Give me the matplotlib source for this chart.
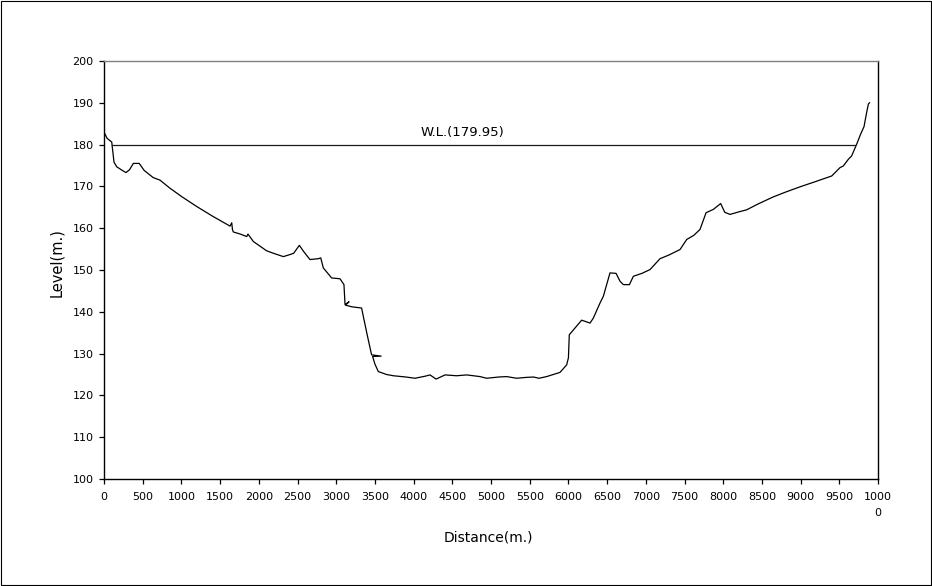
import matplotlib
matplotlib.use("Agg")
import matplotlib.pyplot as plt
from matplotlib.patches import Rectangle

plt.rcParams['font.family'] = ['DejaVu Sans']
plt.rcParams['font.size'] = 8

# river cross-section profile: distance (m) and bed level (m)
distance = [0, 40, 100, 129, 164, 230, 284, 330, 379, 455, 520, 636, 723, 850,
            1000, 1197, 1400, 1628, 1650, 1660, 1671, 1760, 1844, 1860, 1930,
            2016, 2100, 2189, 2317, 2403, 2450, 2524, 2580, 2661, 2769, 2800,
            2833, 2941, 3049, 3100, 3114, 3165, 3120, 3200, 3328, 3350, 3400,
            3457, 3580, 3470, 3500, 3544, 3650, 3738, 3900, 4017, 4150, 4212,
            4290, 4406, 4556, 4686, 4858, 4944, 5100, 5202, 5331, 5450, 5547,
            5620, 5718, 5891, 5977, 6000, 6011, 6084, 6171, 6279, 6322, 6408,
            6451, 6537, 6615, 6667, 6710, 6788, 6839, 6950, 7054, 7183, 7300,
            7442, 7528, 7620, 7700, 7778, 7872, 7967, 8020, 8088, 8200, 8303,
            8450, 8648, 8800, 8992, 9200, 9402, 9509, 9552, 9617, 9659, 9724,
            9775, 9819, 9853, 9875, 9890]
level = [183.0, 181.5, 180.6, 175.8, 174.7, 173.9, 173.3, 174.0, 175.5, 175.5,
         173.8, 172.1, 171.5, 169.6, 167.6, 165.2, 162.9, 160.5, 161.3, 159.6,
         159.1, 158.6, 158.0, 158.6, 156.8, 155.7, 154.6, 154.0, 153.2, 153.7,
         154.0, 155.9, 154.4, 152.5, 152.7, 152.9, 150.5, 148.1, 147.9, 146.5,
         141.7, 142.4, 141.6, 141.2, 140.9, 138.9, 134.5, 129.7, 129.4, 129.3,
         127.5, 125.7, 125.0, 124.7, 124.4, 124.1, 124.6, 124.9, 123.9, 124.9,
         124.7, 124.9, 124.5, 124.1, 124.4, 124.5, 124.1, 124.3, 124.4, 124.1,
         124.5, 125.5, 127.3, 129.0, 134.5, 136.1, 138.0, 137.3, 138.5, 142.1,
         143.7, 149.3, 149.2, 147.3, 146.5, 146.5, 148.5, 149.2, 150.1, 152.7,
         153.6, 154.9, 157.3, 158.3, 159.7, 163.7, 164.5, 165.9, 163.8, 163.3,
         163.9, 164.4, 165.8, 167.5, 168.6, 169.9, 171.2, 172.5, 174.5, 174.9,
         176.5, 177.3, 180.1, 182.5, 184.3, 187.7, 189.7, 190.0]

water_level = 179.95
water_extent = [100, 9703]

x_ticks = list(range(0, 10001, 500))
x_labels = [str(v) for v in x_ticks[:-1]] + ['1000\n0']
y_ticks = list(range(100, 201, 10))

fig = plt.figure(figsize=(9.32, 5.86), dpi=100)
ax = fig.add_axes([0.1116, 0.1826, 0.8305, 0.7133])

ax.plot(distance, level, color='black', lw=0.9)
ax.plot(water_extent, [water_level, water_level], color='#1a1a1a', lw=0.9)
ax.text(4630, water_level + 1.4, 'W.L.(%.2f)' % water_level,
        ha='center', va='bottom', fontsize=9.5)

ax.set_xlim(0, 10000)
ax.set_ylim(100, 200)
ax.set_xticks(x_ticks)
ax.set_xticklabels(x_labels, linespacing=1.7)
ax.set_yticks(y_ticks)
ax.tick_params(direction='out', length=3.6, width=0.9, colors='black',
               labelsize=8)
ax.tick_params(axis='x', pad=6)
ax.tick_params(axis='y', pad=4)

for side in ['left', 'bottom', 'right']:
    ax.spines[side].set_color('black')
    ax.spines[side].set_linewidth(1.0)
ax.spines['top'].set_color('#808080')
ax.spines['top'].set_linewidth(1.0)

ax.set_xlabel('Distance(m.)', fontsize=10, va='center')
ax.xaxis.set_label_coords(0.497, -0.139)
ax.set_ylabel('Level(m.)', fontsize=10.5, va='center')
ax.yaxis.set_label_coords(-0.061, 0.517)

# frame around the whole chart
fig.patches.append(Rectangle((0.0006, 0.001), 0.998, 0.998, transform=fig.transFigure,
                             fill=False, edgecolor='black', lw=0.8))

fig.savefig('out.png', dpi=100, facecolor='white')
